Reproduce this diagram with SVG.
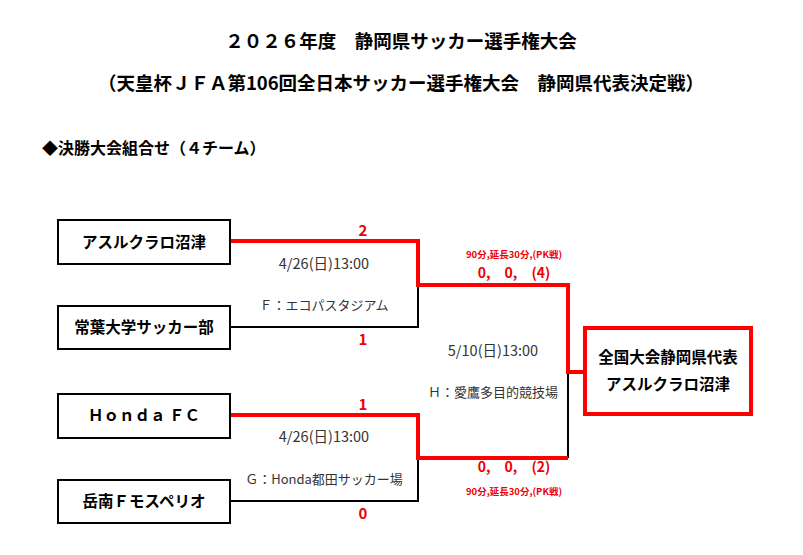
<svg xmlns="http://www.w3.org/2000/svg" width="803" height="555" viewBox="0 0 803 555">
<style>
text{font-family:"Noto Sans CJK JP","Liberation Sans",sans-serif}
.t{font-size:18.5px;font-weight:bold;fill:#000}
.n{font-size:15.5px;font-weight:bold;fill:#000;text-anchor:middle}
.s{font-size:13px;fill:#333;text-anchor:middle}
.d{font-size:14.5px;fill:#333;text-anchor:middle}
.r{font-size:14px;font-weight:bold;fill:#e00;text-anchor:middle}
.rs{font-size:9.5px;font-weight:bold;fill:#e00;text-anchor:middle}
.box{fill:#fff;stroke:#000;stroke-width:2}
.bl{fill:none;stroke:#000;stroke-width:2}
.rd{fill:none;stroke:#f00;stroke-width:4}
</style>
<rect width="803" height="555" fill="#fff"/>
<text class="t" x="401" y="48" text-anchor="middle">２０２６年度　静岡県サッカー選手権大会</text>
<text class="t" x="401" y="90" text-anchor="middle">（天皇杯ＪＦＡ第106回全日本サッカー選手権大会　静岡県代表決定戦）</text>
<text class="t" x="42" y="154" style="font-size:16px">◆決勝大会組合せ（４チーム）</text>
<g id="connectors">
<polyline class="bl" points="230,327 418,327 418,285"/>
<polyline class="bl" points="230,501 418,501 418,458"/>
<polyline class="bl" points="568,372 568,458"/>
<polyline class="rd" points="230,241 418,241 418,285 568,285 568,372 584,372"/>
<polyline class="rd" points="230,415 418,415 418,458 568,458"/>
</g>
<g id="n1"><rect class="box" x="58" y="220" width="172" height="44"/><text class="n" x="144" y="248">アスルクラロ沼津</text></g>
<g id="n2"><rect class="box" x="58" y="306" width="172" height="43"/><text class="n" x="144" y="333">常葉大学サッカー部</text></g>
<g id="n3"><rect class="box" x="58" y="394" width="172" height="44"/><text class="n" x="144" y="421">Ｈｏｎｄａ ＦＣ</text></g>
<g id="n4"><rect class="box" x="58" y="480" width="172" height="43"/><text class="n" x="144" y="507">岳南Ｆモスペリオ</text></g>
<g id="winner"><rect x="585" y="328" width="166" height="86" fill="#fff" stroke="#f00" stroke-width="4"/>
<text class="n" x="668" y="363">全国大会静岡県代表</text><text class="n" x="668" y="390">アスルクラロ沼津</text></g>
<text class="r" x="363" y="236" style="font-size:15px">2</text>
<text class="r" x="363" y="345" style="font-size:15px">1</text>
<text class="r" x="363" y="410" style="font-size:15px">1</text>
<text class="r" x="363" y="519" style="font-size:15px">0</text>
<text class="d" x="324" y="269">4/26(日)13:00</text>
<text class="s" x="324" y="310">Ｆ：エコパスタジアム</text>
<text class="d" x="324" y="442">4/26(日)13:00</text>
<text class="s" x="324" y="484">Ｇ：Honda都田サッカー場</text>
<text class="d" x="493" y="356">5/10(日)13:00</text>
<text class="s" x="493" y="397">Ｈ：愛鷹多目的競技場</text>
<text class="rs" x="514" y="258">90分,延長30分,(PK戦)</text>
<text class="r" x="514" y="278">0,　0,　(4)</text>
<text class="r" x="514" y="472">0,　0,　(2)</text>
<text class="rs" x="514" y="495">90分,延長30分,(PK戦)</text>
</svg>
